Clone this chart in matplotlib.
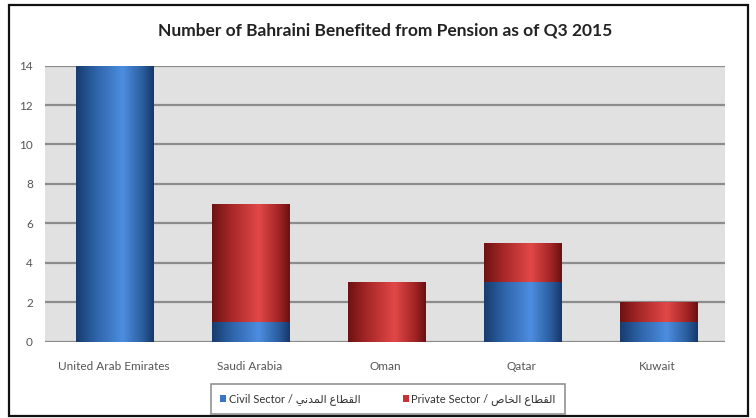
import numpy as np
import matplotlib
matplotlib.use('Agg')
import matplotlib.pyplot as plt
from matplotlib.colors import LinearSegmentedColormap
from matplotlib.patches import Rectangle

plt.rcParams['font.family'] = ['Lato', 'DejaVu Sans']

countries = ["United Arab Emirates", "Saudi Arabia", "Oman", "Qatar", "Kuwait"]
civil = [14, 1, 0, 3, 1]
private = [0, 6, 3, 2, 1]

# Arabic labels written in visual order with presentation forms (no shaping in matplotlib)
ar_civil = "\uFEF2\uFEE7\uFEAA\uFEE4\uFEDF\uFE8D \uFEC9\uFE8E\uFEC4\uFED8\uFEDF\uFE8D"
ar_private = "\uFEB9\uFE8E\uFEA8\uFEDF\uFE8D \uFEC9\uFE8E\uFEC4\uFED8\uFEDF\uFE8D"
labels = ["Civil Sector / " + ar_civil, "Private Sector / " + ar_private]

blue_cmap = LinearSegmentedColormap.from_list(
    "blue", [(0, "#173c6e"), (0.25, "#2e63a8"), (0.6, "#4d8de0"), (0.85, "#2c5fa0"), (1, "#16386a")])
red_cmap = LinearSegmentedColormap.from_list(
    "red", [(0, "#6e1212"), (0.25, "#a82828"), (0.6, "#e24848"), (0.85, "#a52626"), (1, "#6a1010")])


def shade(ax, bars, cmap):
    grad = np.linspace(0, 1, 256).reshape(1, -1)
    for b in bars:
        if b.get_height() <= 0:
            continue
        x, y = b.get_x(), b.get_y()
        w, h = b.get_width(), b.get_height()
        im = ax.imshow(grad, cmap=cmap, aspect='auto', extent=[x, x + w, y, y + h],
                       zorder=3, interpolation='bicubic')
        im.set_clip_path(b)


fig = plt.figure(figsize=(7.56, 4.18), dpi=100)
fig.patches.append(Rectangle((0.012, 0.004), 0.978, 0.985, transform=fig.transFigure,
                             fill=False, edgecolor='#111111', linewidth=1.6))

ax = fig.add_axes([0.06, 0.183, 0.899, 0.66])
ax.set_facecolor('#e1e1e1')
x = np.arange(len(countries))
w = 0.57
b1 = ax.bar(x + 0.01, civil, w, color='#3a74c4', zorder=2, label=labels[0])
b2 = ax.bar(x + 0.01, private, w, bottom=civil, color='#c83232', zorder=2, label=labels[1])
shade(ax, b1, blue_cmap)
shade(ax, b2, red_cmap)

ax.set_xlim(-0.5, len(countries) - 0.5)
ax.set_ylim(0, 14)
ax.set_yticks(range(0, 15, 2))
ax.set_xticks(x)
ax.set_xticklabels(countries)
ax.yaxis.grid(True, color='#8c8c8c', linewidth=1.6, zorder=1)
ax.set_axisbelow(True)
for s in ax.spines.values():
    s.set_visible(False)
ax.tick_params(axis='both', length=0, labelsize=8.5, colors='#555555')
ax.tick_params(axis='x', pad=14)
ax.tick_params(axis='y', pad=9)

fig.text(0.51, 0.927, "Number of Bahraini Benefited from Pension as of Q3 2015",
         ha='center', va='center', fontsize=12.5, fontweight='bold', color='#222222')

leg = fig.legend(loc='center', bbox_to_anchor=(0.513, 0.045), ncol=2, fontsize=8,
                 frameon=True, fancybox=False, edgecolor='#777777', handlelength=0.6,
                 handleheight=0.6, handletextpad=0.2, columnspacing=3.8, borderpad=0.8)
leg.get_frame().set_linewidth(1.2)
for t in leg.get_texts():
    t.set_color('#333333')

fig.savefig('out.png', dpi=100)
